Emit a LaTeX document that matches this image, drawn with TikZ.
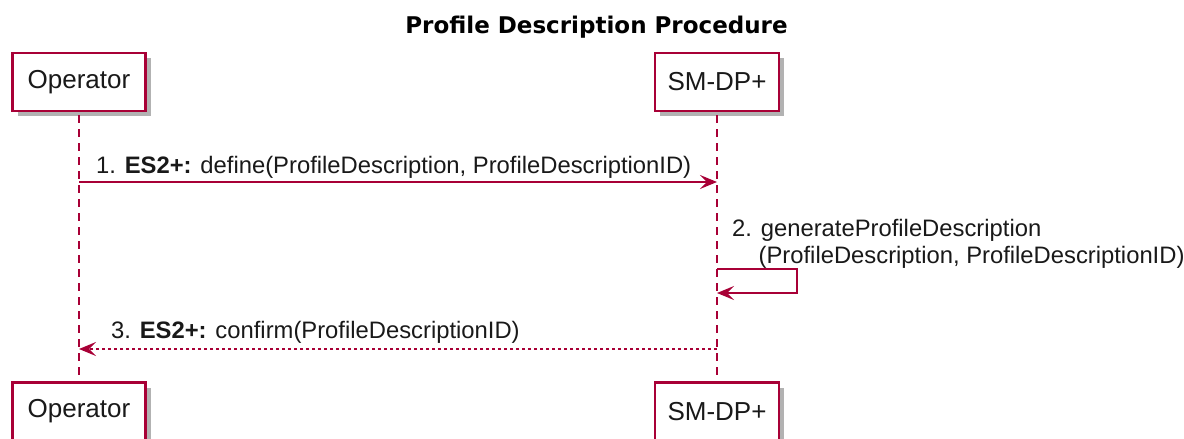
\documentclass[tikz,border=0pt]{standalone}
\usepackage{fontspec}
\setmainfont{Liberation Sans}
\newfontfamily\titlefont{DejaVu Sans}
\usetikzlibrary{arrows.meta,shadows}
\definecolor{umlred}{HTML}{A80036}
\begin{document}
\begin{tikzpicture}[x=1pt,y=-1pt,
  part/.style={draw=umlred, line width=2.4pt, fill=white, minimum height=58pt,
    inner sep=0pt, text=black!90, font=\fontsize{26}{30}\selectfont,
    drop shadow={shadow xshift=5pt, shadow yshift=-5pt, fill=black, opacity=0.3}},
  lifeline/.style={draw=umlred, line width=1.5pt, dash pattern=on 8pt off 6pt},
  msg/.style={draw=umlred, line width=1.6pt,
    -{Stealth[length=17pt, width=14pt, inset=7pt]}},
  reply/.style={msg, dash pattern=on 3pt off 3pt},
  lbl/.style={inner sep=0pt, text=black!90, font=\fontsize{23.8}{27}\selectfont, anchor=base west},
  ttl/.style={inner sep=0pt, text=black, font=\titlefont\bfseries\fontsize{23}{27}\selectfont, anchor=base}
]
\useasboundingbox (0,0) rectangle (1184,439);

\node[ttl] (title) at (596.5,33) {Profile Description Procedure};

\node[part, minimum width=133pt] (opT) at (79,82) {Operator};
\node[part, minimum width=124pt] (smT) at (717,82) {SM-DP+};
\node[part, minimum width=133pt] (opB) at (79,411.5) {Operator};
\node[part, minimum width=124pt] (smB) at (717,411.5) {SM-DP+};

\draw[lifeline] ([yshift=-3pt]opT.south) -- ([yshift=3pt]opB.north);
\draw[lifeline] ([yshift=-3pt]smT.south) -- ([yshift=3pt]smB.north);

% message 1
\coordinate (m1a) at (opT |- 0,182);
\coordinate (m1b) at (smT |- 0,182);
\draw[msg] (m1a) -- (m1b);
\node[lbl] (t1) at (96,173) {1. \textbf{ES2+:} define(ProfileDescription, ProfileDescriptionID)};

% message 2 (self)
\coordinate (m2a) at (smT |- 0,269);
\coordinate (m2b) at (smT |- 0,293);
\draw[msg] (m2a) -- ++(80,0) |- (m2b);
\node[lbl] (t2a) at (732,236) {2. generateProfileDescription};
\node[lbl] (t2b) at (732,263) {\hphantom{2.\ }(ProfileDescription, ProfileDescriptionID)};

% message 3
\coordinate (m3a) at (smT |- 0,349);
\coordinate (m3b) at (opT |- 0,349);
\draw[reply] (m3a) -- (m3b);
\node[lbl] (t3) at (111,338) {3. \textbf{ES2+:} confirm(ProfileDescriptionID)};
\end{tikzpicture}
\end{document}
